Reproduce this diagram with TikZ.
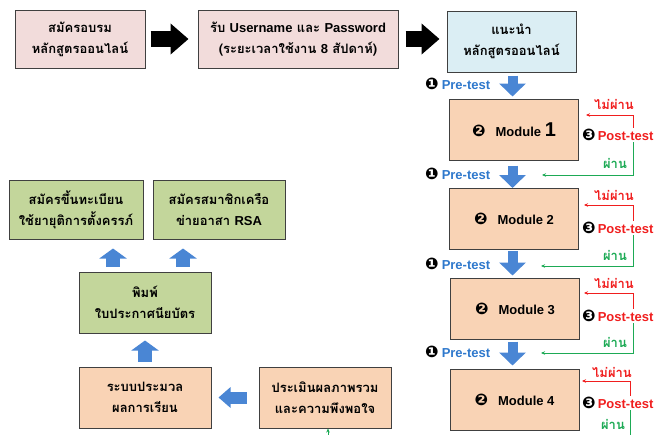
\documentclass[tikz,border=0pt]{standalone}
\usepackage{fontspec}
\setmainfont{Liberation Sans}
\newfontfamily\thai[Script=Thai]{Loma}
\newfontfamily\dv{DejaVu Sans}
\newcommand{\numc}[1]{{\dv\fontsize{16}{16}\selectfont\color{black}#1}}
\usetikzlibrary{arrows.meta,calc}
\definecolor{boxline}{HTML}{404040}
\definecolor{fpink}{HTML}{F2DCDB}
\definecolor{fblue}{HTML}{DBEEF4}
\definecolor{fpeach}{HTML}{F9D3B5}
\definecolor{fgreen}{HTML}{C3D69B}
\definecolor{arrblue}{HTML}{4A86D4}
\definecolor{preblue}{HTML}{2E78CC}
\definecolor{tred}{HTML}{F01E1E}
\definecolor{tgreen}{HTML}{1DAA55}
\begin{document}
\begin{tikzpicture}[x=1pt,y=-1pt,
  box/.style={draw=boxline, line width=1pt, align=center, inner sep=0pt,
    font=\thai\bfseries\fontsize{13}{21}\selectfont},
  blk/.style={line width=16pt, black, -{Triangle[width=30pt,length=18pt]}},
  bdown/.style={line width=10pt, arrblue, -{Triangle[width=26pt,length=13pt]}},
  bup/.style={line width=14pt, arrblue, -{Triangle[width=27pt,length=10pt]}},
  bleft/.style={line width=12pt, arrblue, -{Triangle[width=20pt,length=12pt]}},
  modbox/.style={box, fill=fpeach, minimum width=129pt, minimum height=61pt,
    font=\bfseries\fontsize{13}{13}\selectfont},
  pretxt/.style={anchor=west, inner sep=1pt, text=preblue, font=\bfseries\fontsize{13}{13}\selectfont},
  posttxt/.style={anchor=west, inner sep=1pt, text=tred, font=\bfseries\fontsize{13}{13}\selectfont},
  failtxt/.style={inner sep=1pt, text=tred, font=\thai\bfseries\fontsize{13}{13}\selectfont},
  passtxt/.style={inner sep=1pt, text=tgreen, font=\thai\bfseries\fontsize{13}{13}\selectfont},
  redline/.style={draw=tred, line width=0.8pt, -{Stealth[length=4pt,width=3.5pt]}},
  greenline/.style={draw=tgreen, line width=0.8pt, -{Stealth[length=4pt,width=3.5pt]}}
]
\useasboundingbox (0,0) rectangle (656,434);
\clip (0,0) rectangle (656,434);

% top row
\node[box, fill=fpink, minimum width=130pt, minimum height=58pt] (reg) at (80,39)
  {สมัครอบรม\\หลักสูตรออนไลน์};
\node[box, fill=fpink, minimum width=200pt, minimum height=58pt] (user) at (298,39)
  {รับ {\rmfamily Username} และ {\rmfamily Password}\\({\thai ระยะเวลาใช้งาน} {\rmfamily 8} สัปดาห์)};
\node[box, fill=fblue, minimum width=129pt, minimum height=61pt] (intro) at (511.5,41.5)
  {แนะนำ\\หลักสูตรออนไลน์};
\draw[blk, shorten <=5pt, shorten >=9pt] (reg.east) -- (user.west);
\draw[blk, shorten <=7pt, shorten >=7pt] (user.east) -- (intro.west |- user.east);

% modules
\node[modbox] (m1) at (514,129.5) {\numc{❷}\hspace{10pt}Module {\fontsize{20}{20}\selectfont 1}};
\node[modbox] (m2) at (514,219) {\numc{❷}\hspace{10pt}Module 2};
\node[modbox] (m3) at (515,308.5) {\numc{❷}\hspace{10pt}Module 3};
\node[modbox] (m4) at (514.5,399.5) {\numc{❷}\hspace{10pt}Module 4};

\coordinate (ax) at (512.5,0);
\draw[bdown, shorten <=3pt, shorten >=2pt] (intro.south -| ax) -- (m1.north -| ax);
\draw[bdown, shorten <=5pt, shorten >=0pt] (m1.south -| ax) -- (m2.north -| ax);
\draw[bdown, shorten <=1pt, shorten >=2pt] (m2.south -| ax) -- (m3.north -| ax);
\draw[bdown, shorten <=2pt, shorten >=3pt] (m3.south -| ax) -- (m4.north -| ax);

% pre-test labels
\node[pretxt] (pre1) at (424,84) {\numc{❶}\hspace{3pt}Pre-test};
\node[pretxt] (pre2) at (424,174) {\numc{❶}\hspace{3pt}Pre-test};
\node[pretxt] (pre3) at (424,264) {\numc{❶}\hspace{3pt}Pre-test};
\node[pretxt] (pre4) at (424,352) {\numc{❶}\hspace{3pt}Pre-test};

% post-test labels
\node[posttxt] (p1) at (581,135) {\numc{❸}\hspace{2pt}Post-test};
\node[posttxt] (p2) at (581,228) {\numc{❸}\hspace{2pt}Post-test};
\node[posttxt] (p3) at (581,316) {\numc{❸}\hspace{2pt}Post-test};
\node[posttxt] (p4) at (581,403) {\numc{❸}\hspace{2pt}Post-test};

\node[failtxt] (f1) at (614,104) {ไม่ผ่าน};
\node[failtxt] (f2) at (614,195) {ไม่ผ่าน};
\node[failtxt] (f3) at (614,283) {ไม่ผ่าน};
\node[failtxt] (f4) at (612,372) {ไม่ผ่าน};

\node[passtxt] (g1) at (615,163) {ผ่าน};
\node[passtxt] (g2) at (615,255) {ผ่าน};
\node[passtxt] (g3) at (615,342) {ผ่าน};
\node[passtxt] (g4) at (613,424) {ผ่าน};

\coordinate (rx) at (633,0);
\coordinate (rx4) at (630,0);
\coordinate (r1) at (586,115);
\coordinate (r2) at (584,205);
\coordinate (r3) at (584,293);
\coordinate (r4) at (582,381);
\coordinate (e1) at (542,175);
\coordinate (e2) at (541,266);
\coordinate (e3) at (541,353);

\draw[redline] (p1.north -| rx) |- (r1);
\draw[redline] (p2.north -| rx) |- (r2);
\draw[redline] (p3.north -| rx) |- (r3);
\draw[redline] (p4.north -| rx4) |- (r4);
\draw[greenline] (p1.south -| rx) |- (e1);
\draw[greenline] (p2.south -| rx) |- (e2);
\draw[greenline] (p3.south -| rx) |- (e3);

% bottom-left section
\node[box, fill=fgreen, minimum width=134pt, minimum height=59pt] (regA) at (76,209.5)
  {สมัครขึ้นทะเบียน\\ใช้ยายุติการตั้งครรภ์};
\node[box, fill=fgreen, minimum width=132pt, minimum height=59pt] (regB) at (219,209.5)
  {สมัครสมาชิกเครือ\\ข่ายอาสา {\rmfamily RSA}};
\node[box, fill=fgreen, minimum width=132pt, minimum height=61pt] (print) at (145,302.5)
  {พิมพ์\\ใบประกาศนียบัตร};
\node[box, fill=fpeach, minimum width=132pt, minimum height=61pt] (proc) at (145,397.5)
  {ระบบประมวล\\ผลการเรียน};
\node[box, fill=fpeach, minimum width=132pt, minimum height=61pt] (eval) at (325,397.5)
  {ประเมินผลภาพรวม\\และความพึงพอใจ};

\coordinate (ux1) at (113,0);
\coordinate (ux2) at (183,0);
\draw[bup, shorten <=5pt, shorten >=9pt] (print.north -| ux1) -- (regA.south -| ux1);
\draw[bup, shorten <=5pt, shorten >=9pt] (print.north -| ux2) -- (regB.south -| ux2);
\draw[bup, shorten <=5pt, shorten >=7pt] (proc.north) -- (print.south);
\draw[bleft, shorten <=12pt, shorten >=7pt] (eval.west) -- (proc.east);

\draw[greenline] (p4.south -| rx4) -- ++(0,40) -| ([xshift=3pt]eval.south);
\end{tikzpicture}
\end{document}
